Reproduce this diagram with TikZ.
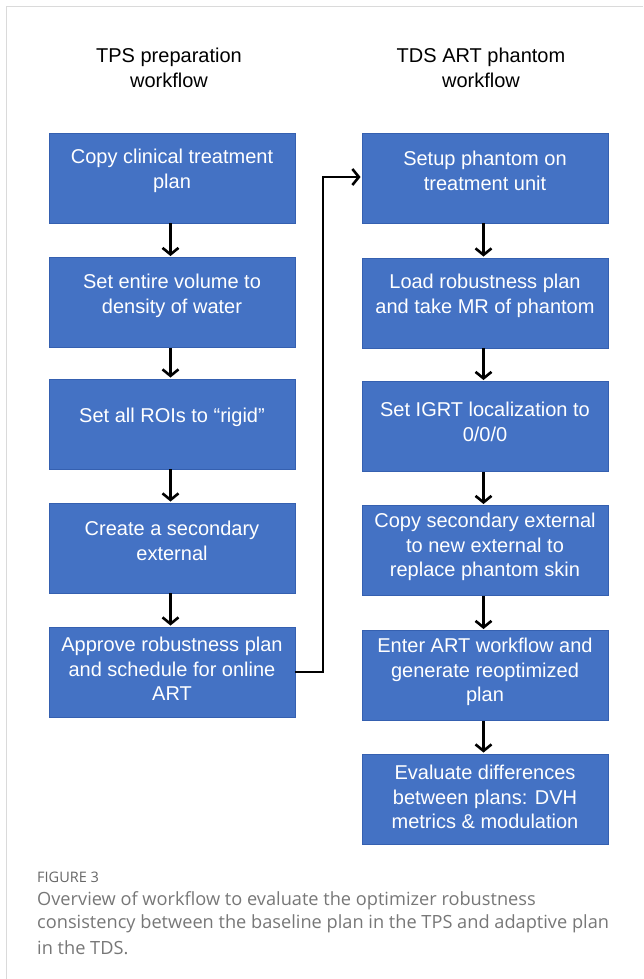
\documentclass[tikz,border=0pt]{standalone}
\usepackage{fontspec}
\setmainfont{Liberation Sans}
\newfontfamily\capfont{Open Sans}
\usetikzlibrary{arrows.meta}
\definecolor{boxblue}{HTML}{4472C4}
\definecolor{boxedge}{HTML}{3560B0}
\definecolor{framegray}{HTML}{DADADA}
\definecolor{capgray}{HTML}{777777}
\definecolor{figgray}{HTML}{666666}
\begin{document}
\begin{tikzpicture}[x=1pt,y=-1pt,
  stepbox/.style={draw=boxedge, line width=0.9pt, fill=boxblue, minimum width=246pt, minimum height=90pt, inner sep=0pt},
  steptext/.style={text=white, align=center, inner sep=0pt, font=\fontsize{20}{24.5}\selectfont},
  title/.style={align=center, inner sep=0pt, font=\fontsize{20}{25}\selectfont},
  flow/.style={line width=2.6pt, -{Straight Barb[length=6.5pt,width=16pt]}, shorten >=1pt},
  capstyle/.style={anchor=west, inner sep=0pt, text=capgray, font=\capfont\fontsize{18.2}{20}\selectfont}]
\useasboundingbox (0,0) rectangle (643,979);
\draw[framegray, line width=1.4pt] (643,6.5) -- (6.5,6.5) -- (6.5,979);

% titles
\node[title] (tl) at (169,67.5) {TPS preparation\\workflow};
\node[title] (tr) at (481,67.5) {TDS ART phantom\\workflow};

% left column
\node[stepbox] (L1) at (172,178) {};
\node[stepbox] (L2) at (172,302.5) {};
\node[stepbox] (L3) at (172,424) {};
\node[stepbox] (L4) at (172,548) {};
\node[stepbox] (L5) at (172,672) {};
\node[steptext] at ([yshift=7pt]L1.center) {Copy clinical treatment\\plan};
\node[steptext] at ([yshift=6.5pt]L2.center) {Set entire volume to\\density of water};
\node[steptext] at ([yshift=7pt]L3.center) {Set all ROIs to “rigid”};
\node[steptext] at ([yshift=7pt]L4.center) {Create a secondary\\external};
\node[steptext] at ([yshift=3pt]L5.center) {Approve robustness plan\\and schedule for online\\ART};

% right column
\node[stepbox] (R1) at (485,178) {};
\node[stepbox] (R2) at (485,303) {};
\node[stepbox] (R3) at (485,426.5) {};
\node[stepbox] (R4) at (485,550.5) {};
\node[stepbox] (R5) at (485,675.5) {};
\node[stepbox] (R6) at (485,799) {};
\node[steptext] at ([yshift=7pt]R1.center) {Setup phantom on\\treatment unit};
\node[steptext] at ([yshift=7pt]R2.center) {Load robustness plan\\and take MR of phantom};
\node[steptext] at ([yshift=4.5pt]R3.center) {Set IGRT localization to\\0/0/0};
\node[steptext] at ([yshift=3.5pt]R4.center) {Copy secondary external\\to new external to\\replace phantom skin};
\node[steptext] at ([yshift=3.5pt]R5.center) {Enter ART workflow and\\generate reoptimized\\plan};
\node[steptext] at ([yshift=2pt]R6.center) {Evaluate differences\\between plans: DVH\\metrics \& modulation};

% arrows
\foreach \a/\b in {L1/L2,L2/L3,L3/L4,L4/L5,R1/R2,R2/R3,R3/R4,R4/R5,R5/R6}
  \draw[flow] ([xshift=-1.5pt]\a.south) -- ([xshift=-1.5pt]\b.north);
\coordinate (cA) at (323,672);
\coordinate (cB) at (323,177);
\draw[flow] (L5.east) -- (cA) -- (cB) -- (R1.west |- cB);

% caption
\node[capstyle, text=figgray, font=\capfont\fontsize{14.5}{16}\selectfont] (fig) at (37,877) {FIGURE 3};
\node[capstyle] (c1) at (37,900.5) {Overview of workflow to evaluate the optimizer robustness};
\node[capstyle] (c2) at (37,924) {consistency between the baseline plan in the TPS and adaptive plan};
\node[capstyle] (c3) at (37,948) {in the TDS.};
\end{tikzpicture}
\end{document}
